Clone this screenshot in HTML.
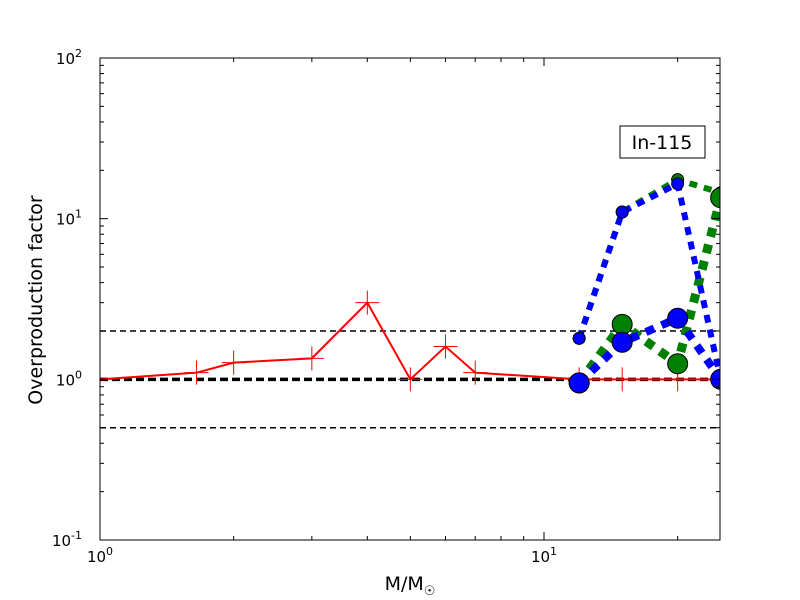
<!DOCTYPE html>
<html><head><meta charset="utf-8"><style>
body{margin:0;background:#fff}
svg{display:block;font-family:"DejaVu Sans","Liberation Sans",sans-serif}
</style></head><body>
<svg id="s" width="800" height="600" xmlns="http://www.w3.org/2000/svg">
<defs><clipPath id="c"><rect x="100" y="58" width="620" height="482"/></clipPath></defs>
<rect width="800" height="600" fill="#fff"/>
<g id="plot" clip-path="url(#c)"></g>
<rect x="100" y="58" width="620" height="482" fill="none" stroke="#000" stroke-width="1"/>
<g id="ticks"></g>
<rect x="620" y="126" width="85" height="32" fill="#fff" stroke="#000"/>
<text x="662" y="149" font-size="19" text-anchor="middle">In-115</text>
<text x="42" y="300" font-size="19" text-anchor="middle" transform="rotate(-90 42 300)">Overproduction factor</text>
<text x="410" y="590" font-size="19" text-anchor="middle">M/M<tspan font-size="13" dy="5">☉</tspan></text>
</svg>
<script>
const NS="http://www.w3.org/2000/svg";
const X=v=>100+444*Math.log10(v), Y=v=>540-160.667*(Math.log10(v)+1);
function el(p,t,a,txt){const e=document.createElementNS(NS,t);for(const k in a)e.setAttribute(k,a[k]);if(txt!==undefined)e.textContent=txt;document.querySelector(p).appendChild(e);return e;}
for(let d=0;d<2;d++)for(let m=1;m<10;m++){const v=m*Math.pow(10,d);if(v>25)break;const x=X(v),L=m==1?8:4;
el('#ticks','line',{x1:x,x2:x,y1:540,y2:540-L,stroke:'#000'});el('#ticks','line',{x1:x,x2:x,y1:58,y2:58+L,stroke:'#000'});}
for(let d=-1;d<2;d++)for(let m=1;m<10;m++){const y=Y(m*Math.pow(10,d)),L=m==1?8:4;
el('#ticks','line',{x1:100,x2:100+L,y1:y,y2:y,stroke:'#000'});el('#ticks','line',{x1:720,x2:720-L,y1:y,y2:y,stroke:'#000'});}
[[1,'0'],[10,'1']].forEach(([v,e])=>{const t=el('#ticks','text',{x:X(v),y:562,'font-size':15,'text-anchor':'middle'},'10');const s=document.createElementNS(NS,'tspan');s.setAttribute('font-size',11);s.setAttribute('dy',-7);s.textContent=e;t.appendChild(s);});
[[0.1,'-1'],[1,'0'],[10,'1'],[100,'2']].forEach(([v,e])=>{const t=el('#ticks','text',{x:82,y:Y(v)+6,'font-size':15,'text-anchor':'end'},'10');const s=document.createElementNS(NS,'tspan');s.setAttribute('font-size',11);s.setAttribute('dy',-7);s.textContent=e;t.appendChild(s);});
[[2,1.5,'6,4'],[0.5,1.5,'6,4'],[1,3.5,'8,4']].forEach(([v,w,d])=>el('#plot','line',{x1:100,x2:720,y1:Y(v),y2:Y(v),stroke:'#000','stroke-width':w,'stroke-dasharray':d}));
const R=[[1,1],[1.65,1.1],[2,1.27],[3,1.35],[4,3],[5,1],[6,1.6],[7,1.1],[12,1],[15,1],[20,1],[25,1]];
el('#plot','polyline',{points:R.map(p=>X(p[0])+','+Y(p[1])).join(' '),fill:'none',stroke:'red','stroke-width':2});
R.forEach(p=>{const x=X(p[0]),y=Y(p[1]);el('#plot','path',{d:`M${x-12},${y}H${x+12}M${x},${y-12}V${y+12}`,stroke:'red','stroke-width':1});});
function series(pts,col,w,dash,r){el('#plot','polyline',{points:pts.map(p=>X(p[0])+','+Y(p[1])).join(' '),fill:'none',stroke:col,'stroke-width':w,'stroke-dasharray':dash});
pts.forEach(p=>el('#plot','circle',{cx:X(p[0]),cy:Y(p[1]),r:r,fill:col,stroke:'#000','stroke-width':1}));}
series([[12,1.8],[15,11],[20,17.5],[25,14.5]],'green',6,'8,7',6);
series([[12,0.95],[15,2.2],[20,1.25],[25,13.5]],'green',9,'9,8',10);
series([[12,1.8],[15,11],[20,16.5],[25,1]],'blue',6,'8,7',6);
series([[12,0.95],[15,1.7],[20,2.4],[25,1]],'blue',8,'9,8',10);
</script>
</body></html>
